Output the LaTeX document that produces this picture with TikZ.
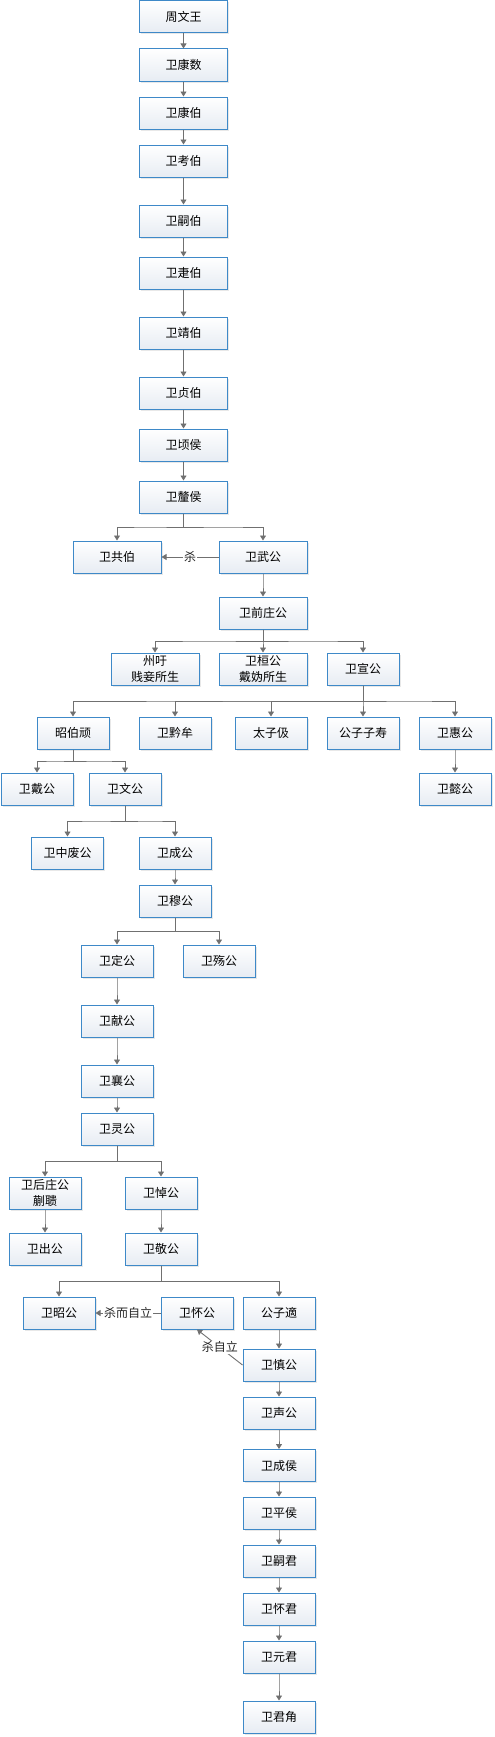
\documentclass[tikz,border=0pt]{standalone}
\usepackage{fontspec}
\setmainfont{Noto Sans CJK SC}
\usetikzlibrary{calc,arrows.meta,shadows}
\definecolor{boxblue}{RGB}{62,137,200}
\definecolor{linegray}{RGB}{112,112,112}
\tikzset{box/.style={draw=boxblue,line width=1pt,top color=white,bottom color={rgb,255:red,231;green,236;blue,243},
			minimum width=72pt,minimum height=32pt,inner sep=1pt,align=center,
			font=\fontsize{12pt}{16pt}\selectfont,
			drop shadow={shadow xshift=1.5pt,shadow yshift=-1.5pt,fill=black!15,opacity=.6}},
	wide/.style={box,minimum width=88pt},
	link/.style={draw=linegray,line width=.9pt,-{Triangle[width=6pt,length=5pt]}},
	lbl/.style={fill=white,inner sep=1pt,font=\fontsize{12pt}{14pt}\selectfont,text=black!85}}

\begin{document}
\begin{tikzpicture}[x=1pt,y=-1pt]
\useasboundingbox (0,0) rectangle (495,1737);

\foreach \n/\t/\y in {zhouwen/周文王/17,kangshu/卫康数/65,kangbo/卫康伯/113,kaobo/卫考伯/161,
	sibo/卫嗣伯/221,jiebo/卫疌伯/273,jingbo/卫靖伯/333,zhenbo/卫贞伯/393,qinghou/卫顷侯/445,lihou/卫釐侯/497} {
	\node[wide] (\n) at (183.5,\y) {\t};
};

\node[wide] (gongbo) at (117,557) {卫共伯};
\node[wide] (wugong) at (263,557) {卫武公};
\node[wide] (qianzhuang) at (263,613) {卫前庄公};
\node[wide] (zhouyu) at (155,669) {州吁\\贱妾所生};
\node[wide] (huangong) at (263,669) {卫桓公\\戴妫所生};
\node[box] (xuangong) at (363,669) {卫宣公};

\foreach \n/\t/\x/\y in {zhaobo/昭伯顽/73/733,qianmou/卫黔牟/175/733,jiji/太子伋/271/733,zishou/公子子寿/363/733,
	huigong/卫惠公/455/733,yigong/卫懿公/455/789,daigong/卫戴公/37/789,wengong/卫文公/125/789,
	zhongfei/卫中废公/67.5/853,chenggong/卫成公/175/853,mugong/卫穆公/175/901,
	dinggong/卫定公/117/961,shanggong/卫殇公/219/961,xiangong/卫献公/117/1021,
	xianggong/卫襄公/117/1081,linggong/卫灵公/117/1129,houzhuang/{卫后庄公\\蒯聩}/45/1193,
	daogong/卫悼公/161/1193,chugong/卫出公/45/1249,jinggong/卫敬公/161/1249,
	zhaogong/卫昭公/59/1313,huaigong/卫怀公/197/1313,gongzishi/公子適/279/1313} {
	\node[box] (\n) at (\x,\y) {\t};
};

\foreach \n/\t/\y in {shen/卫慎公/1365,sheng/卫声公/1413,chenghou/卫成侯/1465.5,pinghou/卫平侯/1513,
	sijun/卫嗣君/1561,huaijun/卫怀君/1609,yuanjun/卫元君/1657,junjiao/卫君角/1717} {
	\node[box] (\n) at (279,\y) {\t};
};

\foreach \p/\c in {zhouwen/kangshu,kangshu/kangbo,kangbo/kaobo,kaobo/sibo,sibo/jiebo,jiebo/jingbo,
	jingbo/zhenbo,zhenbo/qinghou,qinghou/lihou,lihou/gongbo,lihou/wugong,wugong/qianzhuang,
	qianzhuang/zhouyu,qianzhuang/huangong,qianzhuang/xuangong,xuangong/zhaobo,xuangong/qianmou,
	xuangong/jiji,xuangong/zishou,xuangong/huigong,huigong/yigong,zhaobo/daigong,zhaobo/wengong,
	wengong/zhongfei,wengong/chenggong,chenggong/mugong,mugong/dinggong,mugong/shanggong,
	dinggong/xiangong,xiangong/xianggong,xianggong/linggong,linggong/houzhuang,linggong/daogong,
	houzhuang/chugong,daogong/jinggong,jinggong/zhaogong,jinggong/gongzishi,gongzishi/shen,
	shen/sheng,sheng/chenghou,chenghou/pinghou,pinghou/sijun,sijun/huaijun,huaijun/yuanjun,yuanjun/junjiao} {
	\draw[link] (\p.south) |- ($(\p.south)!.5!(\c.north)$) -| (\c.north);
};

\draw[link] (wugong) -- node[lbl] {杀} (gongbo);
\draw[link] (huaigong) -- node[lbl] {杀而自立} (zhaogong);
\draw[link] (shen.west) -- node[lbl] {杀自立} (huaigong.south);

\end{tikzpicture}
\end{document}
